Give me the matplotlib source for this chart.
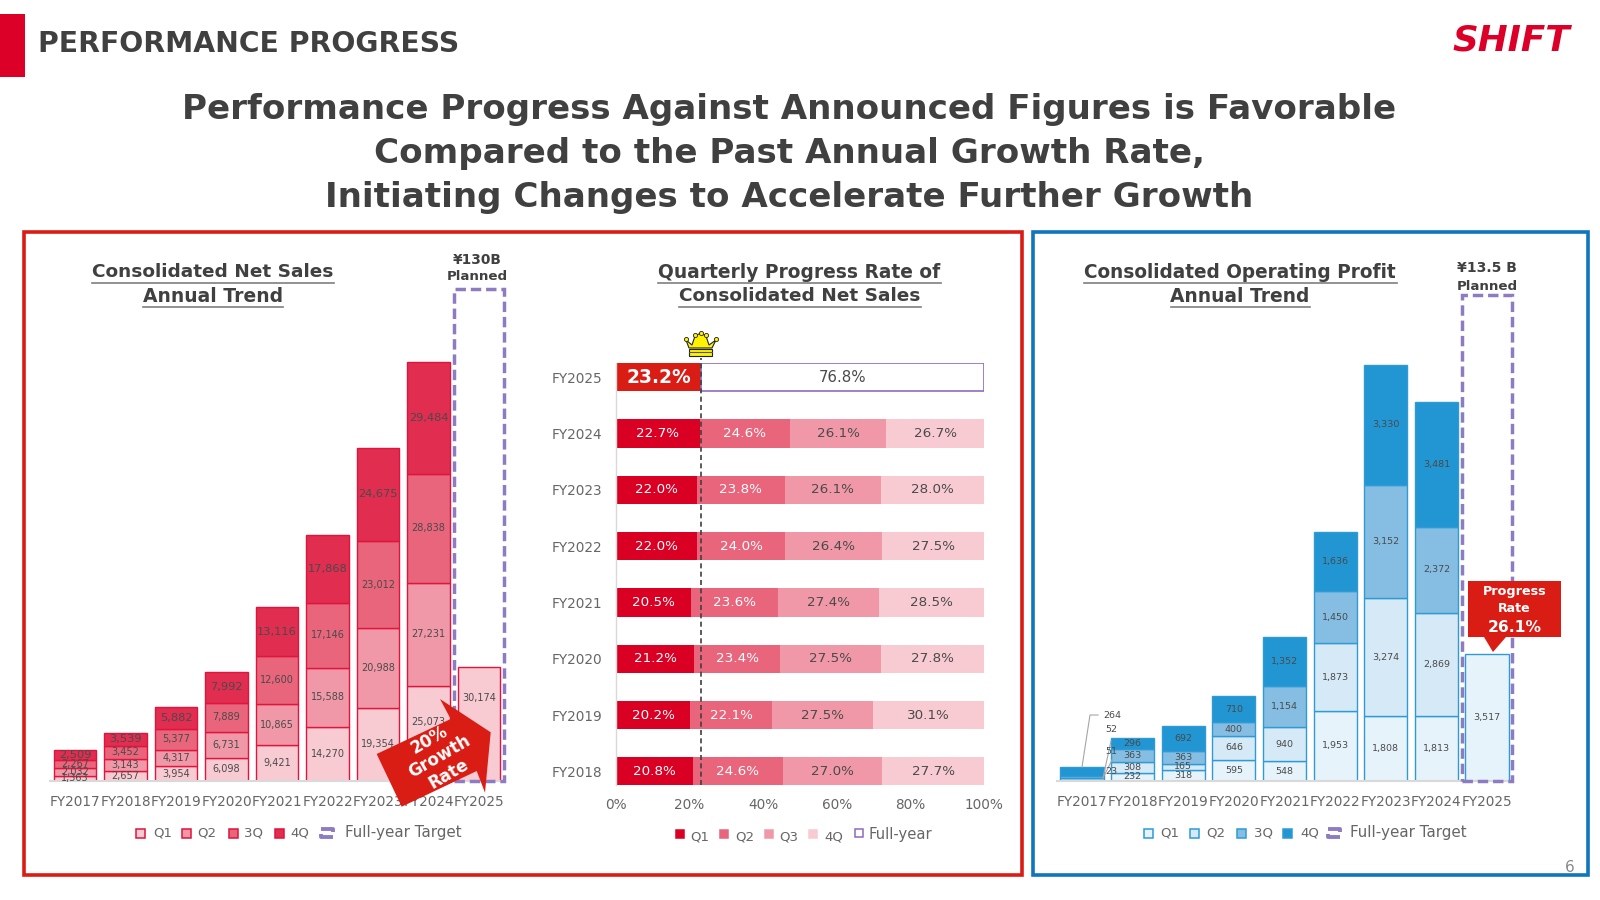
import matplotlib
matplotlib.use("Agg")
import matplotlib.pyplot as plt
from matplotlib.patches import Polygon, Rectangle
import numpy as np

# ---------- data ----------
years = ["FY2017", "FY2018", "FY2019", "FY2020", "FY2021", "FY2022", "FY2023", "FY2024", "FY2025"]
sales_q1 = [1363, 2657, 3954, 6098, 9421, 14270, 19354, 25073, 30174]
sales_q2 = [2032, 3143, 4317, 6731, 10865, 15588, 20988, 27231]
sales_q3 = [2267, 3452, 5377, 7889, 12600, 17146, 23012, 28838]
sales_q4 = [2509, 3539, 5882, 7992, 13116, 17868, 24675, 29484]
sales_target = 130000

profit_q1 = [23, 232, 318, 595, 548, 1953, 1808, 1813, 3517]
profit_q2 = [51, 308, 165, 646, 940, 1873, 3274, 2869]
profit_q3 = [52, 363, 363, 400, 1154, 1450, 3152, 2372]
profit_q4 = [264, 296, 692, 710, 1352, 1636, 3330, 3481]
profit_target = 13500

rate_years = ["FY2018", "FY2019", "FY2020", "FY2021", "FY2022", "FY2023", "FY2024", "FY2025"]
rate_q1 = [20.8, 20.2, 21.2, 20.5, 22.0, 22.0, 22.7]
rate_q2 = [24.6, 22.1, 23.4, 23.6, 24.0, 23.8, 24.6]
rate_q3 = [27.0, 27.5, 27.5, 27.4, 26.4, 26.1, 26.1]
rate_q4 = [27.7, 30.1, 27.8, 28.5, 27.5, 28.0, 26.7]
rate_current = 23.2
rate_remaining = 76.8

# ---------- style ----------
DARK = "#404040"
GREY = "#666666"
LAB = "#4a4a4a"
RED = "#D91C14"
CRIMSON = "#DC0028"
BLUE = "#0F75BC"
PURPLE = "#8E7CC3"
PINKS = ["#F8CBD3", "#F198A8", "#E8657B", "#E02D50"]
BLUES = ["#E6F3FB", "#D6E9F6", "#85BEE2", "#2196D3"]
RATE_COL = ["#D90024", "#E8657C", "#F198A8", "#F8CBD3"]

plt.rcParams["font.family"] = ["DejaVu Sans"]
fig = plt.figure(figsize=(16, 9), dpi=100, facecolor="white")
renderer = fig.canvas.get_renderer()


def px_axes(l, t, r, b):
    return fig.add_axes([l / 1600, 1 - b / 900, (r - l) / 1600, (b - t) / 900])


ov = fig.add_axes([0, 0, 1, 1], zorder=10)
ov.set_xlim(0, 1600)
ov.set_ylim(900, 0)
ov.axis("off")
ov.patch.set_alpha(0)


def fit(x, y, s, width, ha="center", **kw):
    """Text in overlay pixels, font size chosen to span the given width."""
    t = ov.text(x, y, s, ha=ha, va="center", fontsize=10, **kw)
    w = t.get_window_extent(renderer).width
    t.set_fontsize(10 * width / w)
    return t


def stacked(ax, qs, cols, edge, target, sizes, skip_first=False):
    x = np.arange(len(years))
    bottom = np.zeros(len(years))
    all_labels = []
    for i, q in enumerate(qs):
        n = len(q)
        bars = ax.bar(x[:n], q, 0.85, bottom=bottom[:n], color=cols[i], edgecolor=edge, linewidth=1.0, zorder=2)
        labels = [f"{v:,}" for v in q]
        if skip_first:
            labels[0] = ""
        all_labels.append(ax.bar_label(bars, labels=labels, label_type="center", fontsize=sizes[i], color=LAB, zorder=3))
        bottom[:n] += np.array(q)
    ax.bar(x[-1], target, 0.99, facecolor="none", edgecolor=PURPLE, linewidth=2.5,
           linestyle=(0, (3, 1.4)), zorder=4, clip_on=False)
    ax.set_xlim(-0.5, 8.5)
    ax.set_xticks(x, years)
    ax.tick_params(axis="x", length=0, pad=10, labelsize=9.8, labelcolor=GREY)
    ax.set_yticks([])
    for s in ["top", "left", "right"]:
        ax.spines[s].set_visible(False)
    ax.spines["bottom"].set_color("#D9D9D9")
    ax.spines["bottom"].set_linewidth(1.5)
    ax.patch.set_alpha(0)
    return all_labels


# ---------- left chart ----------
ax1 = px_axes(49.75, 250, 504.25, 781)
sales_labels = stacked(ax1, [sales_q1, sales_q2, sales_q3, sales_q4], PINKS, "#E0143C", sales_target, [7, 7, 7, 8.2])
ax1.set_ylim(0, 140200)
# the reference lifts these two labels clear of the growth arrow
sales_labels[0][7].xyann = (0, 8.6)
sales_labels[0][8].xyann = (0, 18.7)

# ---------- right chart ----------
ax3 = px_axes(1056.7, 250, 1512.3, 781)
stacked(ax3, [profit_q1, profit_q2, profit_q3, profit_q4], BLUES, "#2E9BD6", profit_target,
        [6.8, 6.8, 6.8, 6.8], skip_first=True)
ax3.set_ylim(0, 14762)

# ---------- middle chart ----------
ax2 = px_axes(616, 363.2, 984, 785.4)
yy = np.arange(len(rate_years))
left = np.zeros(7)
for i, q in enumerate([rate_q1, rate_q2, rate_q3, rate_q4]):
    b = ax2.barh(yy[:7], q, 0.5, left=left, color=RATE_COL[i], zorder=2)
    ax2.bar_label(b, labels=[f"{v:.1f}%" for v in q], label_type="center", fontsize=9.7,
                  color="white" if i < 2 else LAB, zorder=5)
    left += np.array(q)
b = ax2.barh(yy[7], rate_current, 0.5, color=RED, zorder=2)
ax2.bar_label(b, labels=[f"{rate_current:.1f}%"], label_type="center", fontsize=13.4, color="white",
              fontweight="bold", zorder=5)
b = ax2.barh(yy[7], rate_remaining, 0.5, left=rate_current, color="white", edgecolor="#8E6BBF", linewidth=1.2, zorder=2)
ax2.bar_label(b, labels=[f"{rate_remaining:.1f}%"], label_type="center", fontsize=10.8, color=LAB, zorder=5)
ax2.plot([rate_current, rate_current], [-0.25, 7.35], color="#404040", lw=1.2, ls=(0, (3, 2)), zorder=4, clip_on=False)
ax2.set_xlim(0, 100)
ax2.set_ylim(-0.25, 7.25)
ax2.set_yticks(yy, rate_years)
ax2.set_xticks(np.arange(0, 101, 20), [f"{v}%" for v in range(0, 101, 20)])
ax2.tick_params(axis="both", length=0, labelsize=9.8, labelcolor=GREY)
ax2.tick_params(axis="x", pad=9)
ax2.tick_params(axis="y", pad=10)
for lab in ax2.get_yticklabels():
    lab.set_verticalalignment("center_baseline")
for s in ["top", "right", "bottom"]:
    ax2.spines[s].set_visible(False)
ax2.spines["left"].set_color("#D9D9D9")
ax2.spines["left"].set_linewidth(1.0)
ax2.patch.set_alpha(0)

# ---------- page furniture ----------
ov.add_patch(Rectangle((0, 14), 25, 63, color=CRIMSON, lw=0))
fit(38, 44, "PERFORMANCE PROGRESS", 422, ha="left", color=DARK, fontweight="bold")
t = ov.text(1511, 37, "SHIFT", ha="center", va="center_baseline", fontsize=26, color=CRIMSON,
            fontweight="bold", style="italic")
w = t.get_window_extent(renderer).width
t.set_fontsize(26 * 118 / w)

tt = fit(789, 109, "Performance Progress Against Announced Figures is Favorable", 1218, color=DARK, fontweight="bold")
size = tt.get_fontsize()
ov.text(789, 153, "Compared to the Past Annual Growth Rate,", ha="center", va="center", fontsize=size, color=DARK, fontweight="bold")
ov.text(789, 197, "Initiating Changes to Accelerate Further Growth", ha="center", va="center", fontsize=size, color=DARK, fontweight="bold")

ov.add_patch(Rectangle((24, 232), 998, 643, fill=False, ec=RED, lw=2.6))
ov.add_patch(Rectangle((1033, 232), 555, 643, fill=False, ec=BLUE, lw=2.6))
ov.text(1570, 868, "6", ha="center", va="center", fontsize=11, color="#888888")


def heading(cx, y, s, width):
    fit(cx, y, s, width, color=DARK, fontweight="bold")
    ov.plot([cx - width / 2, cx + width / 2], [y + 11, y + 11], color="#7f7f7f", lw=1.2)


heading(213, 272, "Consolidated Net Sales", 242)
heading(213, 296, "Annual Trend", 140)
heading(799.5, 272, "Quarterly Progress Rate of", 283)
heading(799.5, 296, "Consolidated Net Sales", 242)
heading(1240, 272, "Consolidated Operating Profit", 313)
heading(1240, 296, "Annual Trend", 139)

fit(477, 260, "¥130B", 49, color=DARK, fontweight="bold")
fit(477, 277, "Planned", 61, color=DARK, fontweight="bold")
fit(1487, 268, "¥13.5 B", 60, color=DARK, fontweight="bold")
fit(1487, 286, "Planned", 61, color=DARK, fontweight="bold")

# ---------- FY2017 operating-profit outside labels ----------
for (px, py, s) in [(1112, 716, "264"), (1111, 730, "52"), (1111.5, 751, "51"), (1111, 771, "23")]:
    ov.text(px, py, s, ha="center", va="center", fontsize=6.8, color=LAB)
ov.plot([1082, 1090, 1098], [767, 715, 715], color="#A6A6A6", lw=0.8)
ov.plot([1103, 1111], [778, 741], color="#A6A6A6", lw=0.8)
ov.plot([1103, 1113], [778, 758], color="#A6A6A6", lw=0.8)

# ---------- growth arrow ----------
ov.add_patch(Polygon([(376.7, 754), (450.7, 719), (440, 699), (490.7, 732.3), (485, 792.7),
                      (476.7, 771), (401.7, 806.7)], closed=True, color=RED, lw=0))
ov.text(439, 757, "20%\nGrowth\nRate", ha="center", va="center", rotation=30, rotation_mode="anchor",
        fontsize=12, color="white", fontweight="bold", linespacing=1.1, multialignment="center")

# ---------- progress callout ----------
ov.add_patch(Polygon([(1468, 581), (1561, 581), (1561, 637), (1506, 637), (1493, 652), (1484, 637), (1468, 637)],
                     closed=True, color=RED, lw=0))
fit(1514.5, 591, "Progress", 64, color="white", fontweight="bold")
fit(1514.5, 608, "Rate", 33, color="white", fontweight="bold")
fit(1514.5, 627, "26.1%", 54, color="white", fontweight="bold")

# ---------- crown ----------
ov.add_patch(Polygon([(686, 340), (692, 345), (695, 336), (700.7, 333), (706, 336), (709, 345), (716, 340),
                      (712, 348), (689, 348)], closed=True, fc="#FFF200", ec="#222222", lw=0.8))
ov.add_patch(Rectangle((689, 349), 23, 6.5, fc="#FFF200", ec="#222222", lw=0.8))
ov.plot([689, 712], [352, 352], color="#555555", lw=0.8)
for cx, cy in [(686, 339), (695, 335), (700.7, 332.5), (706, 335), (716, 339)]:
    ov.plot(cx, cy, "o", ms=3, mfc="#FFF200", mec="#222222", mew=0.6)


# ---------- legends ----------
def box(cx, cy, fc, ec, size=9):
    ov.add_patch(Rectangle((cx - size / 2, cy - size / 2), size, size, fc=fc, ec=ec, lw=1.1))


def target_icon(cx, cy):
    ov.plot([cx - 6, cx + 6, cx + 6], [cy - 4, cy - 4, cy - 1], color=PURPLE, lw=2.8, solid_capstyle="butt")
    ov.plot([cx + 6, cx - 6, cx - 6], [cy + 4, cy + 4, cy + 1], color=PURPLE, lw=2.8, solid_capstyle="butt")


for bx, tx, s, fc in zip([140, 186, 233, 279], [153, 197, 244, 290], ["Q1", "Q2", "3Q", "4Q"], PINKS):
    box(bx, 833, fc, "#E0143C")
    ov.text(tx, 833.5, s, ha="left", va="center", fontsize=9.6, color=GREY)
target_icon(327, 833)
fit(345, 833, "Full-year Target", 117, ha="left", color=GREY)

for bx, tx, s, fc in zip([1148, 1194, 1241, 1287], [1160, 1206, 1254, 1300], ["Q1", "Q2", "3Q", "4Q"], BLUES):
    box(bx, 833, fc, "#2E9BD6")
    ov.text(tx, 833.5, s, ha="left", va="center", fontsize=9.6, color=GREY)
target_icon(1334, 833)
fit(1350, 833, "Full-year Target", 117, ha="left", color=GREY)

for bx, tx, s, fc in zip([680, 724, 769, 813], [690, 735, 779, 824], ["Q1", "Q2", "Q3", "4Q"], RATE_COL):
    box(bx, 833.5, fc, fc, size=8)
    ov.text(tx, 837, s, ha="left", va="center", fontsize=9.6, color=GREY)
box(859, 833, "white", "#8E6BBF", size=8)
fit(868, 835, "Full-year", 63, ha="left", color=GREY)

fig.savefig("out.png", dpi=100, facecolor="white")
